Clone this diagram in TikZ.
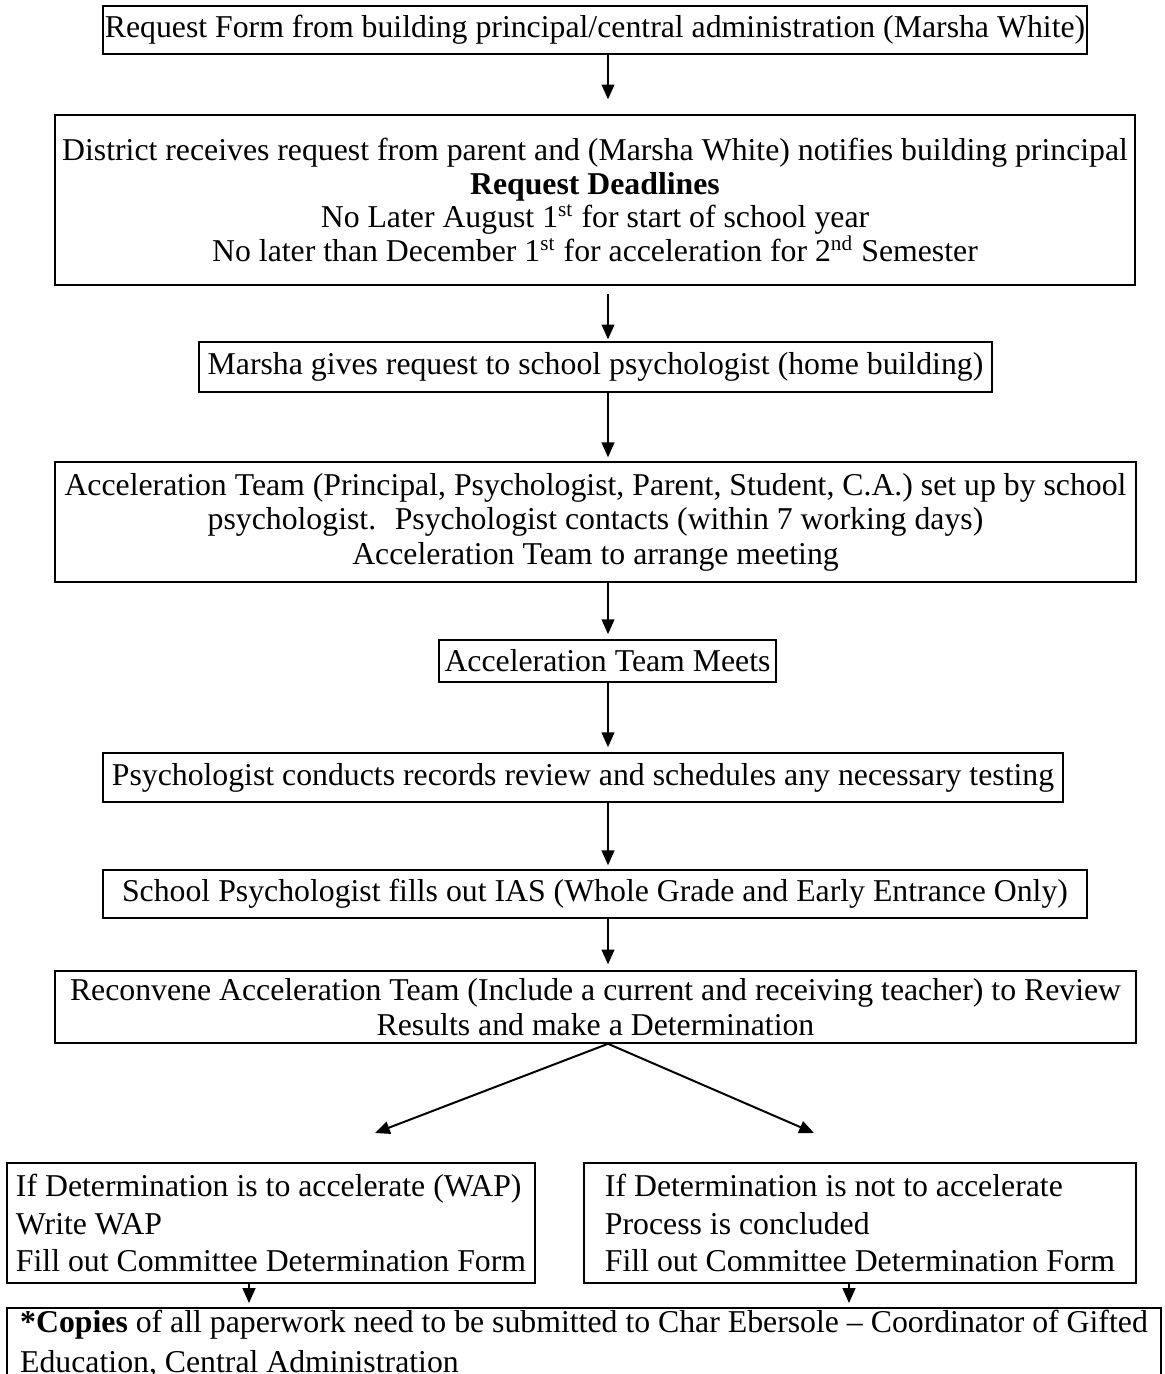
\documentclass[tikz,border=0pt]{standalone}
\usepackage{fontspec}
\setmainfont{Liberation Serif}
\usetikzlibrary{arrows.meta}

\tikzset{
    flowbox/.style={draw, line width=0.6pt, inner sep=0pt, align=center,
        font=\fontsize{12}{13}\selectfont},
    sz/.style 2 args={minimum width=#1*0.3777pt, minimum height=#2*0.3777pt},
    leftbox/.style={draw, line width=0.6pt, inner sep=0.5pt, align=left,
        font=\fontsize{12}{14.3}\selectfont},
    flowarrow/.style={-{Triangle[length=5.6pt,width=4.8pt]}, line width=0.75pt},
}

\begin{document}
\begin{tikzpicture}[x=0.3777pt, y=-0.3777pt]
    \useasboundingbox (0, 0) rectangle (1164, 1374);
    \coordinate (axis) at (608, 0);
    \coordinate (lcol) at (249, 0);
    \coordinate (rcol) at (849, 0);

    \path (595, 30) node [flowbox, sz={984}{48}] (rf)
        {Request Form from building principal/central administration (Marsha White)};
    \path (595, 200) node [flowbox, sz={1080}{170}, font=\fontsize{12}{12.8}\selectfont] (dr)
        {District receives request from parent and (Marsha White) notifies building principal\\
         \textbf{Request Deadlines}\\
         No Later August 1\textsuperscript{st} for start of school year\\
         No later than December 1\textsuperscript{st} for acceleration for 2\textsuperscript{nd} Semester};
    \draw [flowarrow, shorten >=5.6pt] (rf.south -| axis) -- (dr.north -| axis);

    \path (595.5, 367) node [flowbox, sz={793}{50}] (ps)
        {Marsha gives request to school psychologist (home building)};
    \draw [flowarrow, shorten <=3pt, shorten >=0.7pt] (dr.south -| axis) -- (ps.north -| axis);

    \path (595.5, 522) node [flowbox, sz={1081}{120}] (at)
        {Acceleration Team (Principal, Psychologist, Parent, Student, C.A.) set up by school\\
         psychologist.~ Psychologist contacts (within 7 working days)\\
         Acceleration Team to arrange meeting};
    \draw [flowarrow, shorten >=1.5pt] (ps.south -| axis) -- (at.north -| axis);

    \path (607.5, 661) node [flowbox, sz={337}{42}] (tm) {Acceleration Team Meets};
    \draw [flowarrow, shorten >=1.9pt] (at.south -| axis) -- (tm.north -| axis);

    \path (583, 777.5) node [flowbox, sz={960}{49}] (rr)
        {Psychologist conducts records review and schedules any necessary testing};
    \draw [flowarrow, shorten >=1.9pt] (tm.south -| axis) -- (rr.north -| axis);

    \path (595, 894) node [flowbox, sz={984}{48}] (ias)
        {School Psychologist fills out IAS (Whole Grade and Early Entrance Only)};
    \draw [flowarrow, shorten >=1.5pt] (rr.south -| axis) -- (ias.north -| axis);

    \path (595.5, 1007) node [flowbox, sz={1081}{72}] (rc)
        {Reconvene Acceleration Team (Include a current and receiving teacher) to Review\\
         Results and make a Determination};
    \draw [flowarrow, shorten >=2.2pt] (ias.south -| axis) -- (rc.north -| axis);

    \coordinate (ltip) at (375, 1133);
    \coordinate (rtip) at (814, 1133);
    \draw [flowarrow] (rc.south -| axis) -- (ltip);
    \draw [flowarrow] (rc.south -| axis) -- (rtip);

    \path (271, 1223) node [leftbox, sz={528}{120}] (wap)
        {If Determination is to accelerate (WAP)\\
         Write WAP\\
         Fill out Committee Determination Form};
    \path (860, 1223) node [leftbox, sz={552}{120}] (nacc)
        {If Determination is not to accelerate\\
         Process is concluded\\
         Fill out Committee Determination Form};

    \path (584, 1307) node [leftbox, anchor=north, minimum width=1154*0.3777pt,
        inner ysep=1pt, font=\fontsize{12}{14.9}\selectfont] (cp)
        {\textbf{*Copies} of all paperwork need to be submitted to Char Ebersole -- Coordinator of Gifted\\
         Education, Central Administration};
    \draw [flowarrow, shorten >=1.5pt] (wap.south -| lcol) -- (cp.north -| lcol);
    \draw [flowarrow, shorten >=1.5pt] (nacc.south -| rcol) -- (cp.north -| rcol);
\end{tikzpicture}
\end{document}
